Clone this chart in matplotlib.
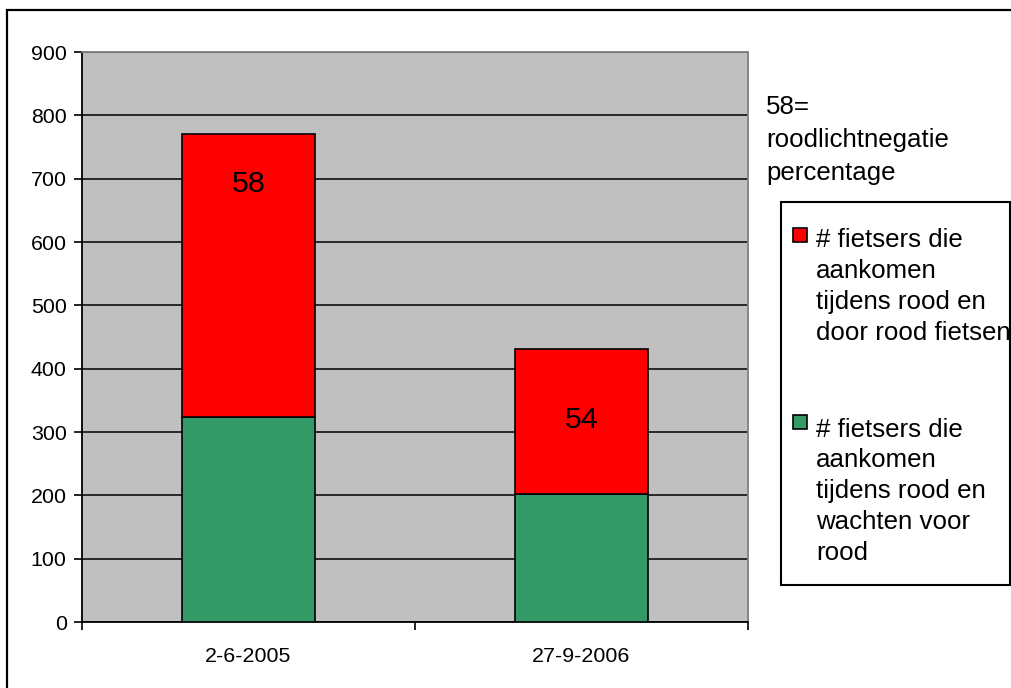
import matplotlib
matplotlib.use("Agg")
import matplotlib.pyplot as plt
from matplotlib.patches import Rectangle
import numpy as np

plt.rcParams['font.family'] = ['Liberation Sans', 'DejaVu Sans']

# ---- data ----
categories = ["2-6-2005", "27-9-2006"]
wachten = [324, 202]          # green: wachten voor rood
door_rood = [446, 229]        # red: door rood fietsen
pct_labels = ["58", "54"]
pct_label_y = [692, 319]
series_labels = ["# fietsers die\naankomen\ntijdens rood en\ndoor rood fietsen",
                 "# fietsers die\naankomen\ntijdens rood en\nwachten voor\nrood"]
note_text = "58=\nroodlichtnegatie\npercentage"
yticks = [0, 100, 200, 300, 400, 500, 600, 700, 800, 900]

RED = "#FF0000"
GREEN = "#339966"
W, H = 1012, 688

fig = plt.figure(figsize=(W / 100, H / 100), dpi=100)
fig.patch.set_facecolor("white")


def fx(x):
    return x / W


def fy(y):
    return 1 - y / H


ax = fig.add_axes([fx(82), fy(622), fx(748) - fx(82), fy(52) - fy(622)])
ax.set_facecolor("#C0C0C0")

x = np.arange(len(categories))
ax.bar(x, wachten, width=0.4, color=GREEN, edgecolor="black", linewidth=1.2, zorder=3)
ax.bar(x, door_rood, width=0.4, bottom=wachten, color=RED, edgecolor="black",
       linewidth=1.2, zorder=3)

for xi, lab, ly in zip(x, pct_labels, pct_label_y):
    ax.text(xi, ly, lab, ha="center", va="center", fontsize=21.8, color="black", zorder=4)

ax.set_xlim(-0.5, 1.5)
ax.set_ylim(0, 900)
ax.set_yticks(yticks)
ax.set_yticklabels([str(v) for v in yticks], fontsize=15.4)
ax.tick_params(axis="y", direction="out", length=6, width=1.2, pad=5, colors="black")
ax.yaxis.grid(True, color="black", linewidth=1.1, zorder=1)
ax.set_axisbelow(True)

ax.set_xticks([-0.5, 0.5, 1.5])
ax.set_xticklabels([])
ax.tick_params(axis="x", which="major", direction="out", length=6, width=1.2)
ax.set_xticks(x, minor=True)
ax.set_xticklabels(categories, minor=True, fontsize=15.4)
ax.tick_params(axis="x", which="minor", length=0, pad=18)

for s in ["left", "bottom"]:
    ax.spines[s].set_color("black")
    ax.spines[s].set_linewidth(1.3)
for s in ["top", "right"]:
    ax.spines[s].set_color("#808080")
    ax.spines[s].set_linewidth(1.3)

# note text (baseline of last line)
fig.text(fx(766), fy(180), note_text, ha="left", va="baseline", fontsize=18.6,
         linespacing=1.47)

# legend box (manual)
fig.add_artist(Rectangle((fx(781), fy(585)), fx(1010) - fx(781), fy(202) - fy(585),
                         transform=fig.transFigure, facecolor="white",
                         edgecolor="black", linewidth=1.5))
for col, lab, sy, ty in [(RED, series_labels[0], 228, 340),
                         (GREEN, series_labels[1], 415, 560)]:
    fig.add_artist(Rectangle((fx(793), fy(sy + 14)), fx(14), 14 / H,
                             transform=fig.transFigure, facecolor=col,
                             edgecolor="black", linewidth=1.2))
    fig.text(fx(816), fy(ty), lab, ha="left", va="baseline", fontsize=18.6,
             linespacing=1.36)

# outer border
fig.add_artist(Rectangle((fx(7), -0.1), 1.2, fy(10) + 0.1, transform=fig.transFigure,
                         facecolor="none", edgecolor="black", linewidth=1.6))

fig.savefig("out.png", dpi=100)
